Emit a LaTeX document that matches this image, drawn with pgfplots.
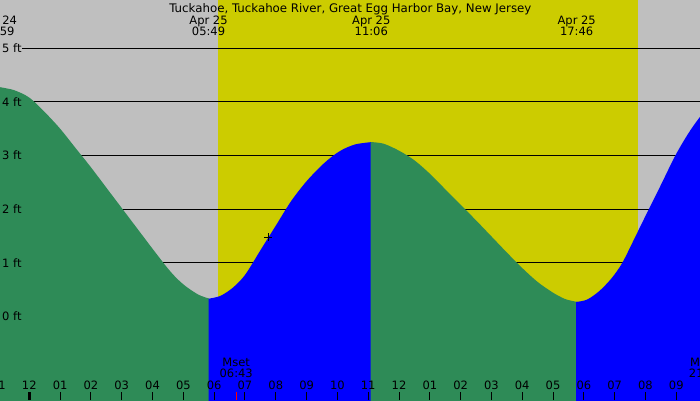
\documentclass[border=0pt]{standalone}
\usepackage{fontspec}
\setmainfont{DejaVu Sans}
\usepackage{pgfplots}
\pgfplotsset{compat=1.18}
\definecolor{bggray}{RGB}{191,191,191}
\definecolor{dayyellow}{RGB}{204,204,0}
\definecolor{ebbgreen}{RGB}{46,139,87}
\definecolor{floodblue}{RGB}{0,0,255}
\begin{document}
\begin{tikzpicture}
\fill[bggray] (0,0) rectangle (700pt,400pt);
\useasboundingbox (0,0) rectangle (700pt,400pt);
\begin{axis}[
  at={(0,0)}, anchor=south west, scale only axis,
  width=700pt, height=400pt,
  xmin=-0.951, xmax=21.77, ymin=-1.562, ymax=5.901,
  axis x line*=bottom, axis y line=none,
  axis line style={draw=none},
  axis on top=true,
  ytick=\empty,
  xtick={0,...,21},
  xticklabels={12,01,02,03,04,05,06,07,08,09,10,11,12,01,02,03,04,05,06,07,08,09},
  tick align=inside, major tick length=8pt,
  tick style={black, line width=1pt},
  xticklabel style={anchor=base, inner sep=0pt, yshift=10.3pt, font=\fontsize{11.5}{13}\selectfont},
  clip=true,
  font=\fontsize{11.5}{13}\selectfont,
]
% daylight band
\addplot[draw=none, fill=dayyellow] coordinates {(6.125,-2) (6.125,7) (19.757,7) (19.757,-2)} -- cycle;
% height lines
\addplot[black, line width=1pt] coordinates {(-0.237,0) (22,0)};
\addplot[black, line width=1pt] coordinates {(-0.237,1) (22,1)};
\addplot[black, line width=1pt] coordinates {(-0.237,2) (22,2)};
\addplot[black, line width=1pt] coordinates {(-0.237,3) (22,3)};
\addplot[black, line width=1pt] coordinates {(-0.237,4) (22,4)};
\addplot[black, line width=1pt] coordinates {(-0.237,5) (22,5)};
% falling tide (green)
\addplot[draw=none, fill=ebbgreen, smooth] coordinates {
 (-1.017,4.28) (-0.5,4.22) (0.0,4.08) (0.5,3.81) (1.0,3.50) (1.5,3.14)
 (2.0,2.78) (2.5,2.40) (3.0,2.02) (3.5,1.64) (4.0,1.26) (4.5,0.89)
 (4.8,0.70) (5.1,0.55) (5.5,0.40) (5.84,0.33)
} -- (axis cs:5.84,-2) -- (axis cs:-1.017,-2) -- cycle;
% rising tide (blue)
\addplot[draw=none, fill=floodblue, smooth] coordinates {
 (5.84,0.33) (6.2,0.38) (6.6,0.53) (7.0,0.77) (7.5,1.23) (8.0,1.69)
 (8.5,2.15) (9.0,2.52) (9.5,2.82) (9.87,3.00) (10.2,3.12) (10.6,3.21) (11.10,3.25)
} -- (axis cs:11.10,-2) -- (axis cs:5.82,-2) -- (axis cs:5.82,0.33) -- cycle;
% falling tide (green)
\addplot[draw=none, fill=ebbgreen, smooth] coordinates {
 (11.10,3.25) (11.5,3.22) (12.0,3.09) (12.5,2.91) (13.0,2.66) (13.5,2.37)
 (14.0,2.08) (14.5,1.79) (15.0,1.49) (15.5,1.19) (16.0,0.90) (16.5,0.64)
 (17.0,0.44) (17.4,0.32) (17.77,0.27)
} -- (axis cs:17.77,-2) -- (axis cs:11.08,-2) -- (axis cs:11.08,3.25) -- cycle;
% rising tide (blue)
\addplot[draw=none, fill=floodblue, smooth] coordinates {
 (17.77,0.27) (18.1,0.31) (18.5,0.47) (18.9,0.71) (19.25,1.00) (19.7,1.52)
 (20.11,2.00) (20.5,2.45) (20.97,3.00) (21.4,3.42) (21.77,3.72) (22.1,3.92)
} -- (axis cs:22.1,-2) -- (axis cs:17.75,-2) -- (axis cs:17.75,0.27) -- cycle;
% current time marker
\addplot[only marks, mark=+, mark size=4pt, black, line width=1pt] coordinates {(7.76,1.47)};
% height labels
\node[anchor=west, inner sep=0pt] at (axis cs:-0.886,5) {5 ft};
\node[anchor=west, inner sep=0pt] at (axis cs:-0.886,4) {4 ft};
\node[anchor=west, inner sep=0pt] at (axis cs:-0.886,3) {3 ft};
\node[anchor=west, inner sep=0pt] at (axis cs:-0.886,2) {2 ft};
\node[anchor=west, inner sep=0pt] at (axis cs:-0.886,1) {1 ft};
\node[anchor=west, inner sep=0pt] at (axis cs:-0.886,0) {0 ft};
% title and tide times
\node[anchor=base, inner sep=0pt, font=\fontsize{11.8}{13}\selectfont] at (axis cs:10.42,5.677) {Tuckahoe, Tuckahoe River, Great Egg Harbor Bay, New Jersey};
\node[anchor=base, inner sep=0pt] at (axis cs:-1.017,5.453) {Apr 24};
\node[anchor=base, inner sep=0pt] at (axis cs:-1.017,5.230) {22:59};
\node[anchor=base, inner sep=0pt] at (axis cs:5.817,5.453) {Apr 25};
\node[anchor=base, inner sep=0pt] at (axis cs:5.817,5.230) {05:49};
\node[anchor=base, inner sep=0pt] at (axis cs:11.10,5.453) {Apr 25};
\node[anchor=base, inner sep=0pt] at (axis cs:11.10,5.230) {11:06};
\node[anchor=base, inner sep=0pt] at (axis cs:17.767,5.453) {Apr 25};
\node[anchor=base, inner sep=0pt] at (axis cs:17.767,5.230) {17:46};
% moon set / rise
\node[anchor=base, inner sep=0pt] at (axis cs:6.717,-0.940) {Mset};
\node[anchor=base, inner sep=0pt] at (axis cs:6.717,-1.146) {06:43};
\node[anchor=base, inner sep=0pt] at (axis cs:21.95,-0.940) {Mrise};
\node[anchor=base, inner sep=0pt] at (axis cs:21.95,-1.146) {21:57};
% hour label of the tick just left of the frame
\node[anchor=base, inner sep=0pt] at (axis cs:-1,-1.369) {11};
\draw[red, line width=1pt] (axis cs:6.717,-1.562) -- (axis cs:6.717,-1.41);
\draw[black, line width=3pt] (axis cs:0,-1.562) -- (axis cs:0,-1.41);
\end{axis}
\end{tikzpicture}
\end{document}
